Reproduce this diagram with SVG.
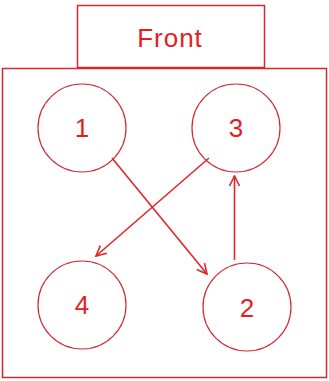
<svg xmlns="http://www.w3.org/2000/svg" width="329" height="381" viewBox="0 0 329 381">
<style>
.box{fill:#fff;stroke:#d9272e;stroke-width:1.5}
.node{fill:#fff;stroke:#d42a35;stroke-width:1.2}
.lbl{font-family:"Liberation Sans",Arial,sans-serif;font-size:26px;fill:#e41e1e;text-anchor:middle}
.edge{stroke:#e0262b;stroke-width:1.6;fill:none;marker-end:url(#arr)}
</style>
<defs>
<marker id="arr" viewBox="0 0 12 12" refX="11" refY="6" markerWidth="12" markerHeight="12" markerUnits="userSpaceOnUse" orient="auto">
<path d="M1,1 L11,6 L1,11" fill="none" stroke="#e0262b" stroke-width="1.6"/>
</marker>
</defs>
<rect width="329" height="381" fill="#fff"/>
<g id="front">
<rect class="box" x="77.5" y="5.5" width="187" height="62"/>
<text class="lbl" x="170" y="47" letter-spacing="1">Front</text>
</g>
<g id="frame">
<rect class="box" x="2.5" y="68.5" width="324" height="309"/>
</g>
<g id="node1">
<circle class="node" cx="82" cy="128" r="44"/>
<text class="lbl" x="82" y="137">1</text>
</g>
<g id="node3">
<circle class="node" cx="236" cy="128" r="44"/>
<text class="lbl" x="236" y="137">3</text>
</g>
<g id="node4">
<circle class="node" cx="82" cy="305" r="44"/>
<text class="lbl" x="82" y="314">4</text>
</g>
<g id="node2">
<circle class="node" cx="247" cy="307" r="44"/>
<text class="lbl" x="247" y="317">2</text>
</g>
<g id="connectors">
<line class="edge" x1="112" y1="158" x2="207" y2="274"/>
<line class="edge" x1="209" y1="158" x2="96" y2="256"/>
<line class="edge" x1="234.5" y1="260" x2="234.5" y2="176"/>
</g>
</svg>
